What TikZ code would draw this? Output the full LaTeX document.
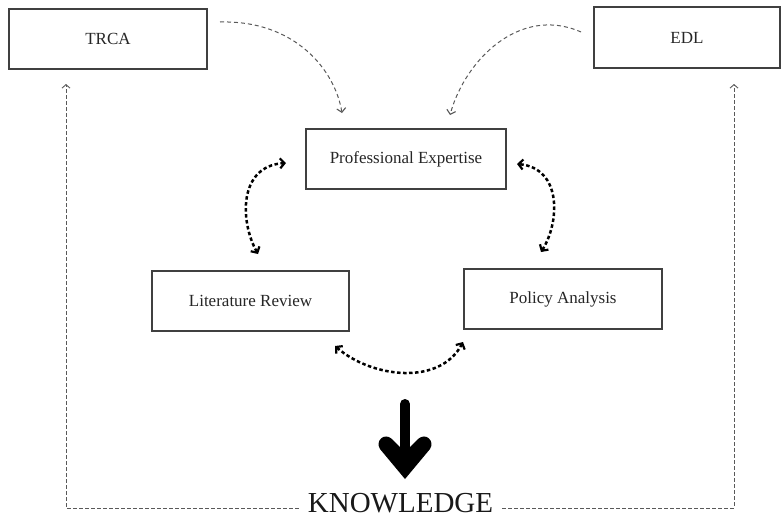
\documentclass[tikz,border=0pt]{standalone}
\usepackage{fontspec}
\setmainfont{Liberation Serif}
\usetikzlibrary{arrows.meta}
\begin{document}
\begin{tikzpicture}[x=1pt,y=-1pt,
  box/.style={draw=black!75,line width=1.1pt,fill=white,inner sep=0pt,
              font=\fontsize{17}{20}\selectfont,text=black!85},
  feed/.style={draw=black!65,line width=1pt,dash pattern=on 4pt off 3pt,
               -{Straight Barb[length=4pt,width=9pt,line width=1.1pt]}},
  frame/.style={draw=black!65,line width=0.9pt,dash pattern=on 3.5pt off 2.5pt},
  link/.style={draw=black,line width=2.5pt,dash pattern=on 3.5pt off 2.5pt,
               {Straight Barb[length=4.5pt,width=10pt,line width=2.2pt]}-{Straight Barb[length=4.5pt,width=10pt,line width=2.2pt]}}]
\useasboundingbox (0,0) rectangle (782,520);

% boxes
\node[box,minimum width=198pt,minimum height=60pt] (trca) at (108,39) {TRCA};
\node[box,minimum width=186pt,minimum height=61pt] (edl) at (687,37.5) {EDL};
\node[box,minimum width=200pt,minimum height=60pt] (pe) at (406,159) {Professional Expertise};
\node[box,minimum width=197pt,minimum height=60pt] (lr) at (250.5,301) {Literature Review};
\node[box,minimum width=198pt,minimum height=60pt] (pa) at (563,299) {Policy Analysis};
\node[inner sep=9pt,font=\fontsize{29}{32}\selectfont,text=black!90] (know) at (400.5,503) {KNOWLEDGE};

% end points of the curved connectors
\coordinate (trcaout) at (220,22);
\coordinate (trcain) at (342,113);
\coordinate (edlout) at (581,32);
\coordinate (edlin) at (450,115);
\coordinate (pel) at (286,163);
\coordinate (lrt) at (258,254);
\coordinate (per) at (517,164);
\coordinate (pat) at (541,252);
\coordinate (lrb) at (335,346);
\coordinate (pab) at (463,342);
\coordinate (tl) at (66,84);
\coordinate (tr) at (734,84);

% sources feeding professional expertise
\draw[feed] (trcaout) .. controls (295,20) and (335,70) .. (trcain);
\draw[feed] (edlout) .. controls (520,5) and (465,60) .. (edlin);

% knowledge flowing back to the sources
\draw[frame,-{Straight Barb[length=3.5pt,width=8pt]}] ([yshift=-5pt]know.west) -| (tl);
\draw[frame,-{Straight Barb[length=3.5pt,width=8pt]}] ([yshift=-5pt]know.east) -| (tr);

% links between the three inputs
\draw[link] (lrt) .. controls (240,222) and (238,166) .. (pel);
\draw[link] (pat) .. controls (560,222) and (562,168) .. (per);
\draw[link] (lrb) .. controls (372,378) and (440,386) .. (pab);

% heavy arrow down to knowledge
\draw[line width=10pt,line cap=round] (405,404) -- (405,448);
\fill (405,479) -- (380,449) .. controls (375,441) and (384,432) .. (392,439)
  -- (405,452) -- (418,439) .. controls (426,432) and (435,441) .. (430,449) -- cycle;
\end{tikzpicture}
\end{document}
